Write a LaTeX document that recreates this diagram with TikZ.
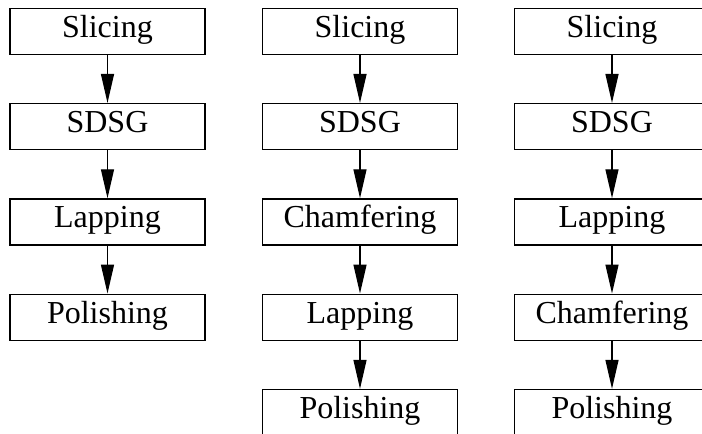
\documentclass[tikz,border=0pt]{standalone}
\usepackage{fontspec}
\setmainfont{Liberation Serif}
\usetikzlibrary{positioning,arrows.meta}

\begin{document}
\begin{tikzpicture}[x=1pt, y=1pt, font=\fontsize{32}{38}\selectfont,
		stage/.style={draw, line width=1.3pt, minimum width=195pt, minimum height=46pt,
			inner sep=0pt, text height=21pt, text depth=9pt},
		flow/.style={line width=1.3pt, -{Triangle[length=29pt,width=13pt]}},
		node distance=48pt]
		% Frame
		\useasboundingbox (0,0) rectangle (702,-434);
		\clip (0,0) rectangle (702,-434);
		
		% Column 1: Slicing -> SDSG -> Lapping -> Polishing
		\node[stage] (a1) at (107.5,-31.3) {Slicing};
		\node[stage, below=of a1] (a2) {SDSG};
		\node[stage, below=of a2] (a3) {Lapping};
		\node[stage, below=of a3] (a4) {Polishing};
		
		% Column 2: chamfering before lapping
		\node[stage] (b1) at (360,-31.3) {Slicing};
		\node[stage, below=of b1] (b2) {SDSG};
		\node[stage, below=of b2] (b3) {Chamfering};
		\node[stage, below=of b3] (b4) {Lapping};
		\node[stage, below=of b4] (b5) {Polishing};
		
		% Column 3: chamfering after lapping
		\node[stage] (c1) at (612,-31.3) {Slicing};
		\node[stage, below=of c1] (c2) {SDSG};
		\node[stage, below=of c2] (c3) {Lapping};
		\node[stage, below=of c3] (c4) {Chamfering};
		\node[stage, below=of c4] (c5) {Polishing};
		
		% Arrows
		\foreach \x/\y in {a1/a2, a2/a3, a3/a4, b1/b2, b2/b3, b3/b4, b4/b5,
			c1/c2, c2/c3, c3/c4, c4/c5}
		\draw[flow] (\x) -- (\y);
		
	\end{tikzpicture}
\end{document}
